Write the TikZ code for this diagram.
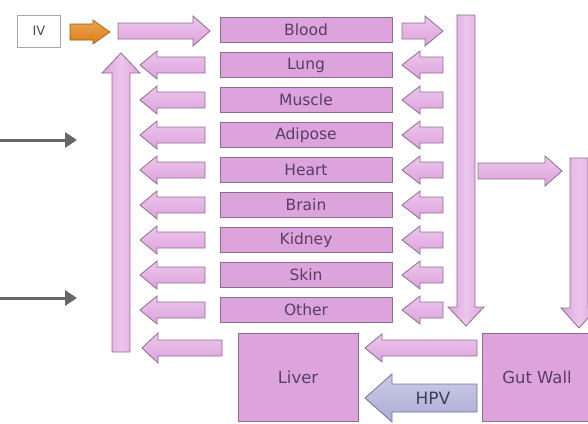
\documentclass[tikz,border=0pt]{standalone}
\usepackage{fontspec}
\setmainfont{DejaVu Sans}
\usetikzlibrary{arrows.meta}
\definecolor{organfill}{HTML}{DDA3DD}
\definecolor{organline}{HTML}{8C6E8C}
\definecolor{organtext}{HTML}{5A3E62}
\definecolor{arrowtop}{HTML}{ECC6EC}
\definecolor{hpvfill}{HTML}{ADADD6}
\definecolor{hpvtop}{HTML}{CACAE6}
\definecolor{hpvline}{HTML}{72729C}
\definecolor{ivorange}{HTML}{DD7E12}
\definecolor{ivline}{HTML}{9A5A10}
\definecolor{feedgray}{HTML}{666666}

% horizontal block arrow: tail x, head base x, tip x, centre y, shaft half-height, head half-height
\newcommand{\hblock}[7]{%
  \path[#1] (#2,#5-#6) -- (#3,#5-#6) -- (#3,#5-#7) -- (#4,#5) -- (#3,#5+#7)
    -- (#3,#5+#6) -- (#2,#5+#6) -- cycle;}
% vertical block arrow: centre x, tail y, head base y, tip y, shaft half-width, head half-width
\newcommand{\vblock}[7]{%
  \path[#1] (#2-#6,#3) -- (#2-#6,#4) -- (#2-#7,#4) -- (#2,#5) -- (#2+#7,#4)
    -- (#2+#6,#4) -- (#2+#6,#3) -- cycle;}

\tikzset{
  organ/.style={draw=organline, line width=0.8pt, fill=organfill,
    minimum width=172pt, minimum height=25pt, inner sep=0pt,
    text=organtext, font=\fontsize{15.5}{16}\selectfont},
  bigorgan/.style={organ, minimum height=88pt, font=\fontsize{16.5}{18}\selectfont},
  flow/.style={draw=organline, line width=0.8pt, top color=arrowtop, bottom color=organfill},
  flowv/.style={draw=organline, line width=0.8pt, left color=organfill, right color=organfill, middle color=arrowtop},
  hpv/.style={draw=hpvline, line width=0.8pt, top color=hpvtop, bottom color=hpvfill},
  ivarrow/.style={draw=ivline, line width=0.6pt, top color=ivorange!70!white, bottom color=ivorange},
  feed/.style={draw=feedgray, line width=3pt, -{Triangle[length=12pt,width=15pt]}}
}

\begin{document}
\begin{tikzpicture}[x=1pt, y=-1pt]
\useasboundingbox (0,0) rectangle (588,423);

% dose input
\node[draw=gray!70, line width=0.8pt, fill=white, minimum width=43pt, minimum height=32pt,
  inner sep=0pt, text=black!70, font=\fontsize{13}{14}\selectfont] (iv) at (39,31) {IV};
\hblock{ivarrow}{70}{93}{110}{32}{8}{12}

% organ compartments
\foreach \nm/\lbl/\yy in {blood/Blood/30, lung/Lung/65, muscle/Muscle/100,
    adipose/Adipose/135, heart/Heart/170, brain/Brain/205, kidney/Kidney/240,
    skin/Skin/275, other/Other/310}{
  \node[organ] (\nm) at (306,\yy) {\lbl};
}

% liver and gut wall
\node[organ, bigorgan, minimum width=120pt] (liver) at (298,377) {Liver};
\node[organ, bigorgan, minimum width=110pt] (gut) at (537,377) {Gut Wall};

% arterial supply: into blood, down the arterial column, across to the gut
\hblock{flow}{118}{193}{210}{31}{8}{15}
\hblock{flow}{402}{425}{443}{31}{8}{15}
\vblock{flowv}{466}{15}{307}{326}{9}{18}
\hblock{flow}{478}{545}{562}{171}{8}{15}
\vblock{flowv}{579}{158}{308}{328}{9}{18}

% arterial inflow to each tissue
\foreach \yy in {65,100,135,170,205,240,275,310}{
  \hblock{flow}{443}{420}{402}{\yy}{8}{14}
}
% venous outflow from each tissue
\foreach \yy in {65,100,135,170,205,240,275,310}{
  \hblock{flow}{205}{157}{140}{\yy}{8}{14}
}
% liver outflow and gut to liver
\hblock{flow}{222}{158}{142}{348}{8}{15}
\hblock{flow}{477}{382}{365}{348}{8}{14}
\hblock{hpv}{477}{392}{365}{398}{14}{24}
\node[text=hpvline!55!black, font=\fontsize{17}{18}\selectfont] (hpvlabel) at (433,398) {HPV};

% venous return column
\vblock{flowv}{121}{352}{73}{53}{9}{19}

% external feeds
\coordinate (feedA) at (0,140);
\coordinate (feedB) at (0,298);
\coordinate (feedAend) at (77,140);
\coordinate (feedBend) at (77,298);
\draw[feed] (feedA) -- (feedAend);
\draw[feed] (feedB) -- (feedBend);
\end{tikzpicture}
\end{document}
